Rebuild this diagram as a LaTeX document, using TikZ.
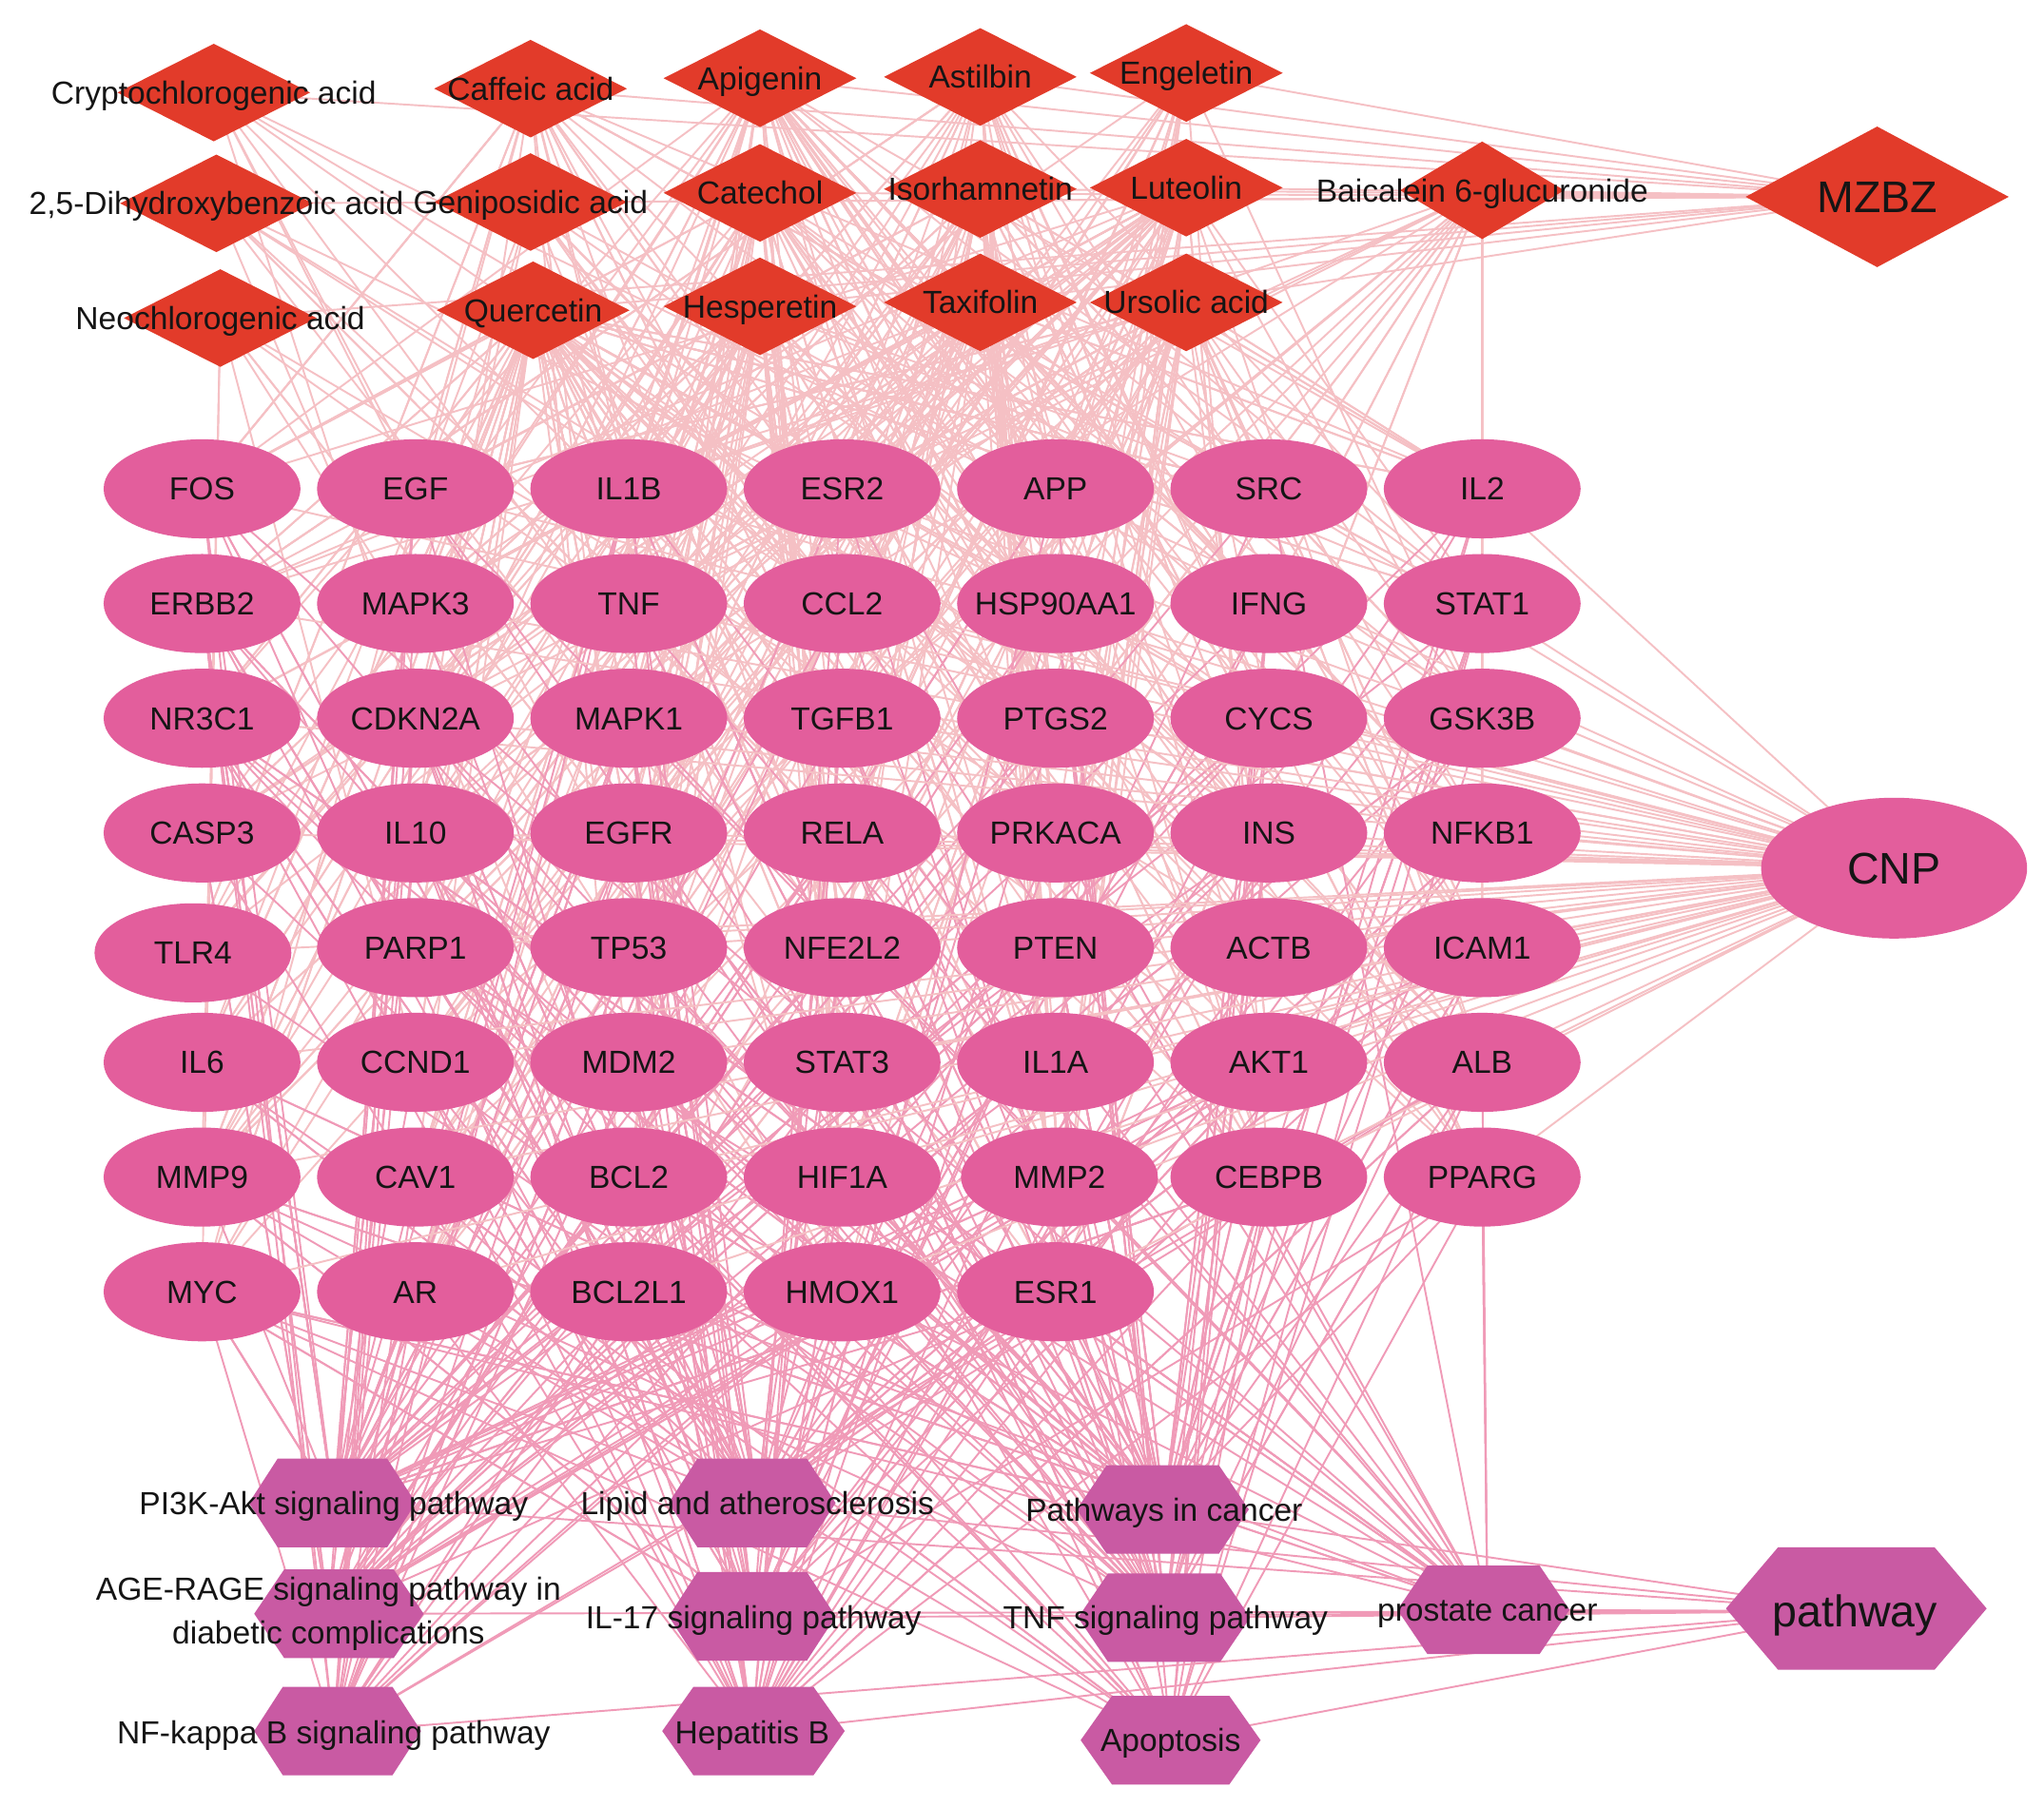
\documentclass[tikz,border=0pt]{standalone}
\usepackage{fontspec}
\setmainfont{Liberation Sans}
\usetikzlibrary{shapes.geometric}
\definecolor{cred}{HTML}{E23B2A}
\definecolor{cpink}{HTML}{E35E9C}
\definecolor{chex}{HTML}{C95AA3}
\definecolor{cedgeA}{HTML}{F5C0C4}
\definecolor{cedgeB}{HTML}{F09AB7}
\definecolor{txt}{HTML}{151515}
\newcommand\labfont{\fontsize{24.5pt}{29pt}\selectfont}
\newcommand\bigfont{\fontsize{34pt}{40pt}\selectfont}
\pgfdeclarelayer{bg}
\pgfsetlayers{bg,main}
\tikzset{
  dia/.style={diamond, aspect=2, fill=cred, draw=none, minimum width=148pt, minimum height=75pt, inner sep=0pt},
  gene/.style={ellipse, fill=cpink, draw=none, minimum width=151pt, minimum height=76pt, inner sep=0pt},
  lab/.style={font=\labfont, inner sep=0pt, text height=17.5pt, text depth=0pt, text=txt},
  labml/.style={font=\fontsize{24.5pt}{34pt}\selectfont, inner sep=0pt, align=center, text=txt},
  bigl/.style={font=\bigfont, inner sep=0pt, text height=24.4pt, text depth=0pt, text=txt},
  eA/.style={draw=cedgeA, line width=1.4pt},
  eB/.style={draw=cedgeB, line width=1.4pt}
}
% hexagon background: #1 x, #2 y, #3 half width, #4 half height, #5 half top edge
\newcommand\hexfill[5]{%
  \fill[chex] (#1-#3,#2) -- (#1-#5,#2-#4) -- (#1+#5,#2-#4) -- (#1+#3,#2) -- (#1+#5,#2+#4) -- (#1-#5,#2+#4) -- cycle;}
\begin{document}
\begin{tikzpicture}[x=1pt,y=-1pt]
\useasboundingbox (0,0) rectangle (1568,1387);
\begin{pgfonlayer}{bg}
\fill[white] (0,0) rectangle (1568,1387);
\end{pgfonlayer}

% ---------------- compounds (diamonds)
\node[dia, label={[lab]center:Cryptochlorogenic acid}] (c1) at (164,71) {};
\node[dia, label={[lab]center:Caffeic acid}] (c2) at (407,68) {};
\node[dia, label={[lab]center:Apigenin}] (c3) at (583,60) {};
\node[dia, label={[lab]center:Astilbin}] (c4) at (752,59) {};
\node[dia, label={[lab]center:Engeletin}] (c5) at (910,56) {};
\node[dia, label={[lab]center:2,5-Dihydroxybenzoic acid}] (c6) at (166,156) {};
\node[dia, label={[lab]center:Geniposidic acid}] (c7) at (407,155) {};
\node[dia, label={[lab]center:Catechol}] (c8) at (583,148) {};
\node[dia, label={[lab]center:Isorhamnetin}] (c9) at (752,145) {};
\node[dia, label={[lab]center:Luteolin}] (c10) at (910,144) {};
\node[dia, minimum width=126pt, label={[lab]center:Baicalein 6-glucuronide}] (c11) at (1137,146) {};
\node[dia, label={[lab]center:Neochlorogenic acid}] (c12) at (169,244) {};
\node[dia, label={[lab]center:Quercetin}] (c13) at (409,238) {};
\node[dia, label={[lab]center:Hesperetin}] (c14) at (583,235) {};
\node[dia, label={[lab]center:Taxifolin}] (c15) at (752,232) {};
\node[dia, label={[lab]center:Ursolic acid}] (c16) at (910,232) {};
\node[dia, minimum width=202pt, minimum height=108pt, label={[bigl]center:MZBZ}] (mzbz) at (1440,151) {};

% ---------------- targets (ellipses)
\foreach \t [count=\i] in {FOS,EGF,IL1B,ESR2,APP,SRC,IL2,
  ERBB2,MAPK3,TNF,CCL2,HSP90AA1,IFNG,STAT1,
  NR3C1,CDKN2A,MAPK1,TGFB1,PTGS2,CYCS,GSK3B,
  CASP3,IL10,EGFR,RELA,PRKACA,INS,NFKB1,
  TLR4,PARP1,TP53,NFE2L2,PTEN,ACTB,ICAM1,
  IL6,CCND1,MDM2,STAT3,IL1A,AKT1,ALB,
  MMP9,CAV1,BCL2,HIF1A,MMP2,CEBPB,PPARG,
  MYC,AR,BCL2L1,HMOX1,ESR1} {
  \pgfmathtruncatemacro\rr{int((\i-1)/7)}
  \pgfmathtruncatemacro\cc{mod(\i-1,7)}
  \pgfmathsetmacro\xx{155+163.67*\cc-7*(\i==29)+3*(\i==47)}
  \pgfmathsetmacro\yy{375+88*\rr+4*(\i==29)}
  \node[gene, label={[lab]center:\t}] (g\i) at (\xx,\yy) {};
}
\node[gene, minimum width=204pt, minimum height=108pt, label={[bigl]center:CNP}] (cnp) at (1453,666) {};

% ---------------- pathways (hexagons)
\hexfill{255}{1153}{64}{34}{42}
\node[lab] (p1) at (256,1153) {PI3K-Akt signaling pathway};
\hexfill{577}{1153}{64}{34}{42}
\node[lab] (p2) at (581,1153) {Lipid and atherosclerosis};
\hexfill{892}{1158}{66}{34}{43}
\node[lab] (p3) at (893,1158) {Pathways in cancer};
\hexfill{260}{1238}{65}{34}{42}
\node[labml] (p4) at (252,1238) {AGE-RAGE signaling pathway in\\diabetic complications};
\hexfill{577}{1240}{64}{34}{42}
\node[lab] (p5) at (578,1241) {IL-17 signaling pathway};
\hexfill{893}{1241}{66}{34}{43}
\node[lab] (p6) at (894,1241) {TNF signaling pathway};
\hexfill{1138}{1235}{66}{34}{43}
\node[lab] (p7) at (1141,1235) {prostate cancer};
\hexfill{259}{1328}{64}{34}{42}
\node[lab] (p8) at (256,1329) {NF-kappa B signaling pathway};
\hexfill{578}{1328}{70}{34}{46}
\node[lab] (p9) at (577,1329) {Hepatitis B};
\hexfill{898}{1335}{69}{34}{45}
\node[lab] (p10) at (898,1335) {Apoptosis};
\hexfill{1424}{1234}{100}{47}{60}
\node[bigl] (pw) at (1423,1236) {pathway};

% ---------------- edges
\begin{pgfonlayer}{bg}
\pgfmathsetseed{20240}
% compound -- target
\foreach \c/\n in {1/8,2/26,3/50,4/30,5/18,6/8,7/12,8/38,9/42,10/55,11/22,12/8,13/80,14/38,15/38,16/42}{
  \foreach \k in {1,...,\n}{
    \pgfmathrandominteger{\gg}{1}{54}
    \draw[eA] (c\c.center) -- (g\gg.center);
  }
}
% pathway -- target
\foreach \p/\n in {1/48,2/48,3/55,4/36,5/30,6/36,7/24,8/26,9/32,10/24}{
  \foreach \k in {1,...,\n}{
    \pgfmathrandominteger{\gg}{1}{54}
    \draw[eB] (p\p.center) -- (g\gg.center);
  }
}
\draw[eA] (c11.center) -- (g7.center);
\draw[eB] (g49.center) -- (p7.center);
% hubs
\foreach \c in {1,...,16} \draw[eA] (mzbz.center) -- (c\c.center);
\foreach \g in {1,...,54} \draw[eA] (cnp.center) -- (g\g.center);
\foreach \p in {1,...,10} \draw[eB] (pw.center) -- (p\p.center);
\end{pgfonlayer}
\end{tikzpicture}
\end{document}
